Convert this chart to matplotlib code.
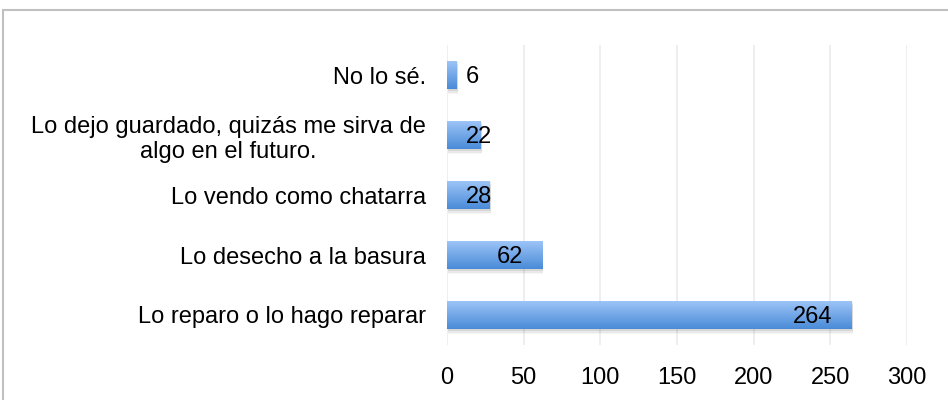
import matplotlib.pyplot as plt
import numpy as np
from matplotlib.colors import LinearSegmentedColormap
from matplotlib.patches import Rectangle

categories = [
    "Lo reparo o lo hago reparar",
    "Lo desecho a la basura",
    "Lo vendo como chatarra",
    "Lo dejo guardado, quizás me sirva de\nalgo en el futuro.",
    "No lo sé.",
]
values = [264, 62, 28, 22, 6]
x_ticks = [0, 50, 100, 150, 200, 250, 300]

plt.rcParams["font.family"] = ["Liberation Sans", "DejaVu Sans"]


def draw_bars(ax, y, values, height):
    cmap = LinearSegmentedColormap.from_list("bar", ["#4a8bd8", "#9fc6f8"])
    grad = np.linspace(0, 1, 64).reshape(-1, 1)
    for yi, v in zip(y, values):
        # soft shadow below the bar
        for k, a in enumerate([0.12, 0.08, 0.05]):
            off = 0.03 + k * 0.025
            ax.add_patch(Rectangle((0.6, yi - height / 2 - off), v + 0.3, height,
                                   color="#555555", alpha=a, lw=0, zorder=1))
        bar = ax.barh(yi, v, height=height, color="#6fa6ea", zorder=2)[0]
        im = ax.imshow(grad, cmap=cmap, aspect="auto", origin="lower",
                       extent=(0, v, yi - height / 2, yi + height / 2), zorder=3)
        im.set_clip_path(bar)


def main():
    fig = plt.figure(figsize=(9.48, 4.0), dpi=100)
    ax = fig.add_axes([0.4715, 0.1375, 0.4853, 0.75])

    y = np.arange(len(categories))
    height = 0.48
    draw_bars(ax, y, values, height)

    for yi, v in zip(y, values):
        if v > 40:
            ax.text(v - 12.4, yi - 0.03, str(v), ha="right", va="center",
                    fontsize=17, color="black", zorder=4)
        else:
            ax.text(12, yi - 0.03, str(v), ha="left", va="center",
                    fontsize=17, color="black", zorder=4)

    ax.set_xlim(0, 300)
    ax.set_ylim(-0.5, len(categories) - 0.5)
    ax.set_xticks(x_ticks)
    ax.set_yticks(y)
    ax.set_yticklabels(categories, multialignment="center")
    ax.tick_params(axis="both", length=0, labelsize=17)
    ax.tick_params(axis="y", pad=15)
    ax.tick_params(axis="x", pad=16)
    ax.xaxis.grid(True, color="#ebebeb", lw=1.2, zorder=0)
    ax.set_axisbelow(True)
    for s in ax.spines.values():
        s.set_visible(False)

    # outer chart frame
    fig.patches.append(Rectangle((3 / 948, -0.1), 1.2, (390 / 400) + 0.1,
                                 transform=fig.transFigure, fill=False,
                                 edgecolor="#c0c0c0", lw=1.5))

    fig.savefig("out.png", dpi=100)


if __name__ == "__main__":
    main()
